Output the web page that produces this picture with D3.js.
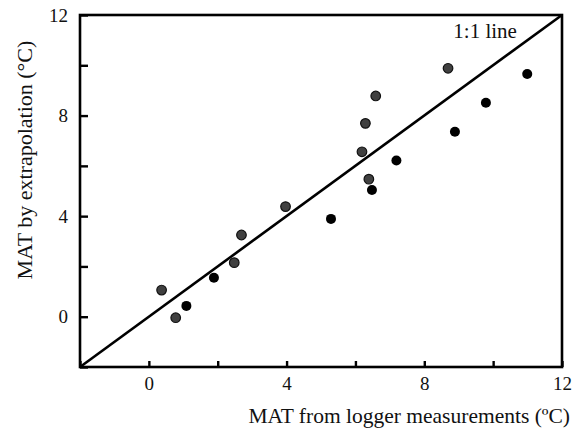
<!DOCTYPE html>
<html>
<head>
<meta charset="utf-8">
<script src="https://cdn.jsdelivr.net/npm/d3@7"></script>
<style>
  body { margin: 0; background: #fff; }
  svg { display: block; }
  svg text { font-family: "Liberation Serif", "DejaVu Serif", serif !important; }
</style>
</head>
<body>
<div id="chart"></div>
<script>
// logger-measured MAT vs extrapolated MAT, two groups of sites
const groupA_x = [0.37, 0.78, 2.48, 2.69, 3.97, 6.19, 6.29, 6.39, 6.59, 8.69];
const groupA_y = [1.06, -0.04, 2.15, 3.25, 4.38, 6.56, 7.69, 5.47, 8.78, 9.88];
const groupB_x = [1.09, 1.89, 5.29, 6.48, 7.19, 8.89, 9.79, 10.99];
const groupB_y = [0.43, 1.55, 3.89, 5.04, 6.21, 7.36, 8.51, 9.65];
const tickValues = [-2, 0, 2, 4, 6, 8, 10, 12];
const labelValues = [0, 4, 8, 12];

const width = 580, height = 428;
const margin = { top: 15, right: 18, bottom: 61, left: 80 };
const serif = "Liberation Serif";

const svg = d3.select("#chart").append("svg")
  .attr("width", width)
  .attr("height", height);

const x = d3.scaleLinear().domain([-2, 12]).range([margin.left, width - margin.right]);
const y = d3.scaleLinear().domain([-2, 12]).range([height - margin.bottom, margin.top]);

const g = svg.append("g");

// 1:1 line
g.append("line")
  .attr("x1", x(-2)).attr("y1", y(-2))
  .attr("x2", x(12)).attr("y2", y(12))
  .attr("stroke", "#000")
  .attr("stroke-width", 2.6);

g.append("text")
  .attr("x", x(10.69))
  .attr("y", y(11.09))
  .attr("text-anchor", "end")
  .attr("font-family", serif)
  .attr("font-size", 21)
  .attr("fill", "#111")
  .text("1:1 line");

// points
const ptsA = groupA_x.map((v, i) => [v, groupA_y[i]]);
const ptsB = groupB_x.map((v, i) => [v, groupB_y[i]]);

g.selectAll("circle.a")
  .data(ptsA)
  .join("circle")
  .attr("class", "a")
  .attr("cx", d => x(d[0]))
  .attr("cy", d => y(d[1]))
  .attr("r", 4.8)
  .attr("fill", "#404040")
  .attr("stroke", "#111")
  .attr("stroke-width", 1.2);

g.selectAll("circle.b")
  .data(ptsB)
  .join("circle")
  .attr("class", "b")
  .attr("cx", d => x(d[0]))
  .attr("cy", d => y(d[1]))
  .attr("r", 5)
  .attr("fill", "#000");

// axes: ticks point inward, labels every 4
const xAxis = d3.axisBottom(x)
  .tickValues(tickValues)
  .tickSizeInner(-6)
  .tickSizeOuter(0)
  .tickPadding(10)
  .tickFormat(d => labelValues.includes(d) ? d : "");

const yAxis = d3.axisLeft(y)
  .tickValues(tickValues)
  .tickSizeInner(-8)
  .tickSizeOuter(0)
  .tickPadding(12)
  .tickFormat(d => labelValues.includes(d) && d !== -2 ? d : "");

const gx = svg.append("g")
  .attr("transform", `translate(0,${y(-2)})`)
  .call(xAxis);
const gy = svg.append("g")
  .attr("transform", `translate(${x(-2)},0)`)
  .call(yAxis);

[gx, gy].forEach(a => {
  a.attr("font-family", serif);
  a.select(".domain").remove();
  a.selectAll(".tick line").attr("stroke", "#000").attr("stroke-width", 2.4);
  a.selectAll(".tick text")
    .attr("font-family", serif)
    .attr("font-size", 19)
    .attr("fill", "#111");
});

// frame
svg.append("rect")
  .attr("x", x(-2))
  .attr("y", y(12))
  .attr("width", x(12) - x(-2))
  .attr("height", y(-2) - y(12))
  .attr("fill", "none")
  .attr("stroke", "#000")
  .attr("stroke-width", 2.6);

// axis titles
svg.append("text")
  .attr("x", 570)
  .attr("y", 423)
  .attr("text-anchor", "end")
  .attr("font-family", serif)
  .attr("font-size", 21.5)
  .attr("fill", "#111")
  .text("MAT from logger measurements (ºC)");

svg.append("text")
  .attr("transform", `translate(32,160) rotate(-90)`)
  .attr("text-anchor", "middle")
  .attr("font-family", serif)
  .attr("font-size", 22)
  .attr("fill", "#111")
  .text("MAT by extrapolation (°C)");
</script>
</body>
</html>
